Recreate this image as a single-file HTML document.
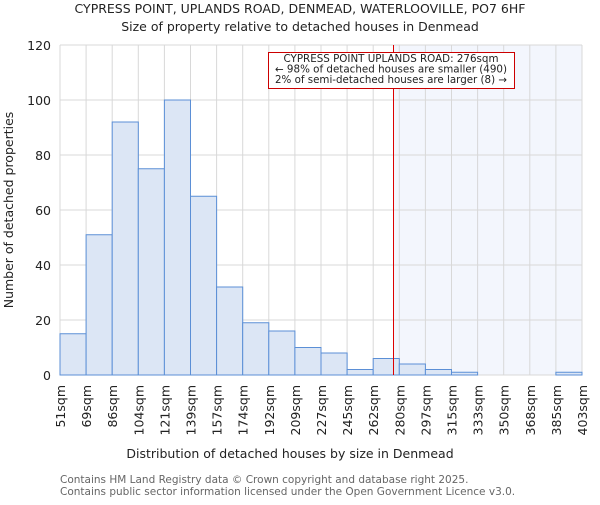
<!DOCTYPE html>
<html><head><meta charset="utf-8"><style>
body{margin:0;background:#fff;}
svg text{font-family:"DejaVu Sans","Liberation Sans",sans-serif;}
</style></head><body>
<svg width="600" height="500" xmlns="http://www.w3.org/2000/svg">
<text x="300" y="13" text-anchor="middle" font-size="12.5" fill="#222">CYPRESS POINT, UPLANDS ROAD, DENMEAD, WATERLOOVILLE, PO7 6HF</text>
<text x="300" y="31" text-anchor="middle" font-size="12.5" fill="#222">Size of property relative to detached houses in Denmead</text>
<g id="plot"></g>
<text x="290" y="458" text-anchor="middle" font-size="12.5" fill="#222">Distribution of detached houses by size in Denmead</text>
<text transform="translate(13,210) rotate(-90)" text-anchor="middle" font-size="12.5" fill="#222">Number of detached properties</text>
<text x="60" y="483" font-size="10.5" fill="#666">Contains HM Land Registry data © Crown copyright and database right 2025.</text>
<text x="60" y="495" font-size="10.5" fill="#666">Contains public sector information licensed under the Open Government Licence v3.0.</text>
</svg>
<script>
const binEdges=[51,69,86,104,121,139,157,174,192,209,227,245,262,280,297,315,333,350,368,385,403];
const counts=[15,51,92,75,100,65,32,19,16,10,8,2,6,4,2,1,0,0,0,1];
const yTicks=[0,20,40,60,80,100,120];
const propertySize=276;
const NS="http://www.w3.org/2000/svg";
const X0=60,X1=582,Y0=375,Y1=45,YMAX=120;
const nb=counts.length,bw=(X1-X0)/nb;
const xb=i=>X0+i*bw;
const xv=v=>{for(let i=0;i<nb;i++){if(v<=binEdges[i+1])return xb(i)+(v-binEdges[i])/(binEdges[i+1]-binEdges[i])*bw;}return X1;};
const y=v=>Y0-(v/YMAX)*(Y0-Y1);
const g=document.getElementById('plot');
function mk(t,a){const e=document.createElementNS(NS,t);for(const k in a)e.setAttribute(k,a[k]);g.appendChild(e);return e;}
const lx=Math.round(xv(propertySize))-0.5;
let e=mk('rect',{x:lx,y:Y1,width:X1-lx,height:Y0-Y1,fill:'#f3f6fd'});


for(let i=0;i<=nb;i++){e=mk('line',{x1:xb(i),x2:xb(i),y1:Y1,y2:Y0,stroke:'#d8d8d8','stroke-width':1});

}
yTicks.forEach(t=>{e=mk('line',{x1:X0,x2:X1,y1:y(t),y2:y(t),stroke:'#d8d8d8','stroke-width':1});


e=mk('text',{x:X0-9,y:y(t)+5,'text-anchor':'end','font-size':'12.5',fill:'#222'});e.textContent=t;

});
counts.forEach((c,i)=>{if(c<=0)return;e=mk('rect',{x:xb(i),y:y(c),width:bw,height:Y0-y(c),fill:'#dce6f5',stroke:'#5b8fd6','stroke-width':1});

});
binEdges.forEach((b,i)=>{const x=xb(i);e=mk('text',{transform:`translate(${x+5},385) rotate(-90)`,'text-anchor':'end','font-size':'12.5',fill:'#222'});e.textContent=b+'sqm';

});
e=mk('line',{x1:lx,x2:lx,y1:Y1,y2:Y0,stroke:'#dd0000','stroke-width':1});


e=mk('rect',{x:268.5,y:52.5,width:246,height:36,fill:'#fff',stroke:'#cc0000','stroke-width':1});


const lines=['CYPRESS POINT UPLANDS ROAD: 276sqm','← 98% of detached houses are smaller (490)','2% of semi-detached houses are larger (8) →'];
lines.forEach((t,i)=>{e=mk('text',{x:391,y:62+i*10.5,'text-anchor':'middle','font-size':'10.3',fill:'#222',textLength:i==0?215:232,lengthAdjust:'spacingAndGlyphs'});e.textContent=t;

});
</script>
</body></html>
